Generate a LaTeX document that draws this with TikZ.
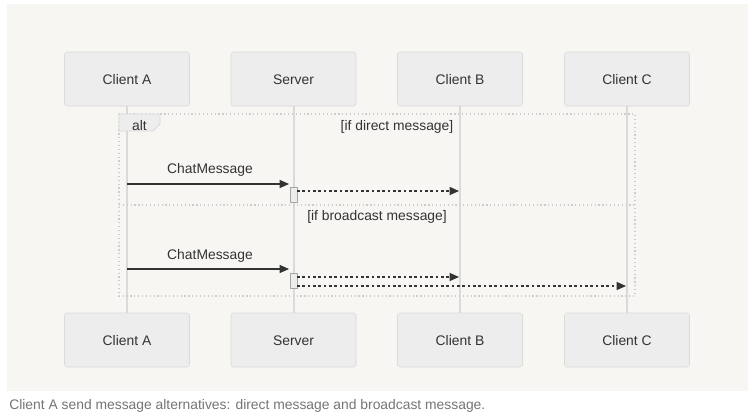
\documentclass[tikz,border=0pt]{standalone}
\usepackage{fontspec}
\setmainfont{Liberation Sans}
\usetikzlibrary{arrows.meta}
\begin{document}
\begin{tikzpicture}[x=0.75pt, y=-0.75pt, font=\fontsize{10.4}{12}\selectfont]
        \definecolor{bggrey}{RGB}{247,246,243}
        \definecolor{boxgrey}{RGB}{237,237,237}
        \definecolor{edgegrey}{RGB}{218,218,218}
        \definecolor{txtgrey}{RGB}{51,51,51}
        \definecolor{capgrey}{RGB}{117,117,117}
        \tikzset{
            actor/.style={draw=edgegrey, fill=boxgrey, rounded corners=2pt, minimum width=93.75pt, minimum height=40.5pt, text=txtgrey, inner sep=0pt, text height=9pt, text depth=0.5pt},
            label/.style={text=txtgrey, text height=10.5pt, text depth=2pt},
            lifeline/.style={edgegrey, line width=1.5pt},
            msg/.style={txtgrey, line width=0.9pt, -{Triangle[length=7pt, width=6pt]}},
            reply/.style={txtgrey, line width=0.9pt, dash pattern=on 2pt off 2pt, -{Triangle[length=7pt, width=6pt]}},
            activ/.style={draw=gray!70, fill=boxgrey, line width=0.6pt},
            frameline/.style={draw=edgegrey!85!gray, line width=0.9pt, dotted}
        }

        \useasboundingbox (0,0) rectangle (755,419);
        \fill[white] (0,0) rectangle (755,419);
        \fill[bggrey] (7,4) rectangle (748,391);

        % actors top and bottom
        \node[actor] (ta) at (127,79) {Client A};
        \node[actor] (ts) at (293.5,79) {Server};
        \node[actor] (tb) at (460,79) {Client B};
        \node[actor] (tc) at (627,79) {Client C};
        \node[actor] (ba) at (127,340) {Client A};
        \node[actor] (bs) at (293.5,340) {Server};
        \node[actor] (bb) at (460,340) {Client B};
        \node[actor] (bc) at (627,340) {Client C};

        \draw[lifeline] (ta) -- (ba);
        \draw[lifeline] (ts) -- (bs);
        \draw[lifeline] (tb) -- (bb);
        \draw[lifeline] (tc) -- (bc);

        % alt frame
        \draw[frameline] (119,114) rectangle (635,296);
        \draw[frameline] (119,205) -- (635,205);
        \draw[draw=edgegrey, fill=boxgrey, line width=0.6pt] (119,114) -- (160,114) -- (160,124) -- (153,131) -- (119,131) -- cycle;
        \node[label] (alt) at (139.5,125) {alt};
        \node[label] (g1) at (397,125) {[if direct message]};
        \node[label] (g2) at (377,215) {[if broadcast message]};

        % direct message
        \coordinate (a1) at (127,184);
        \coordinate (s1) at (289,184);
        \node[label] (m1) at (210,168) {ChatMessage};
        \draw[msg] (a1) -- (s1);
        \draw[activ] (290,187) rectangle (297,202);
        \coordinate (s2) at (297,191);
        \coordinate (b2) at (459,191);
        \draw[reply] (s2) -- (b2);

        % broadcast message
        \coordinate (a3) at (127,269);
        \coordinate (s3) at (289,269);
        \node[label] (m2) at (210,254) {ChatMessage};
        \draw[msg] (a3) -- (s3);
        \draw[activ] (290,273) rectangle (297,288);
        \coordinate (s4) at (297,277);
        \coordinate (b4) at (459,277);
        \draw[reply] (s4) -- (b4);
        \coordinate (s5) at (297,286);
        \coordinate (c5) at (626,286);
        \draw[reply] (s5) -- (c5);

        \node[anchor=west, inner sep=0pt, text=capgrey] (cap) at (9,406) {Client A send message alternatives: direct message and broadcast message.};
    \end{tikzpicture}
\end{document}
